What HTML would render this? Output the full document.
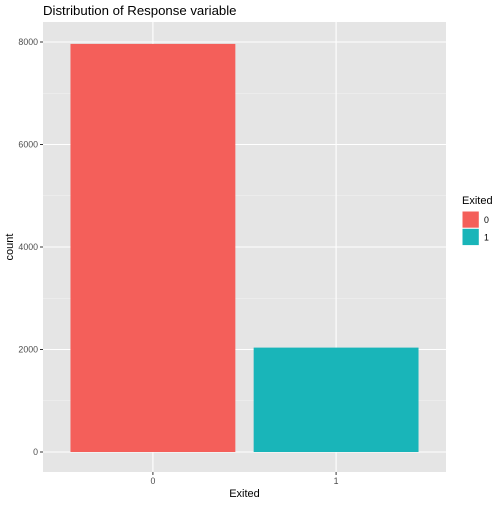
<!DOCTYPE html>
<html><head><meta charset="utf-8"><style>
body{margin:0;background:#fff;font-family:"Liberation Sans",sans-serif;}
svg text{font-family:"Liberation Sans",sans-serif;}
</style></head><body>
<svg width="504" height="504" xmlns="http://www.w3.org/2000/svg">
<text x="43" y="15" font-size="13.2" fill="#000">Distribution of Response variable</text>
<rect x="43" y="22" width="403" height="450" fill="#e5e5e5"/>
<g id="grid"></g>
<g id="bars"></g>
<g id="axes"></g>
<text x="244.5" y="497" font-size="11" text-anchor="middle">Exited</text>
<text transform="translate(13,247) rotate(-90)" font-size="11" text-anchor="middle">count</text>
<g>
<text x="462" y="204" font-size="11">Exited</text>
<g id="legend"></g>
</g>
</svg>
<script>
const categories = ["0","1"];
const counts = [7963, 2037];
const colors = ["#F45F5A","#19B5B9"];
const yTicks = [0,2000,4000,6000,8000];
const NS="http://www.w3.org/2000/svg";
const px0=43, px1=446, py0=452, py8=42;
function y(v){return py0-(v/8000)*(py0-py8);}
function x(i){return px0+(i+1-0.4)*(px1-px0)/2.2;}
const bw=0.9*(px1-px0)/2.2;
function mk(t,a,p){const e=document.createElementNS(NS,t);for(const k in a)e.setAttribute(k,a[k]);p.appendChild(e);return e;}
const grid=document.getElementById('grid'), bars=document.getElementById('bars'), axes=document.getElementById('axes'), leg=document.getElementById('legend');
yTicks.forEach((t,i)=>{
  const g=mk('line',{x1:px0,x2:px1,y1:y(t),y2:y(t),stroke:'#fff','stroke-width':1.1},grid);
  
  
  if(i<yTicks.length-1){const mid=(t+yTicks[i+1])/2;
    const m=mk('line',{x1:px0,x2:px1,y1:y(mid),y2:y(mid),stroke:'#f2f2f2','stroke-width':0.55},grid);
    
    }
  const tk=mk('line',{x1:px0-3,x2:px0,y1:y(t),y2:y(t),stroke:'#333','stroke-width':1},axes);
  
  
  const tx=mk('text',{x:px0-5,y:y(t)+3,'font-size':8.8,fill:'#4d4d4d','text-anchor':'end'},axes);
  tx.textContent=t;
  
  
});
categories.forEach((c,i)=>{
  const g=mk('line',{x1:x(i),x2:x(i),y1:22,y2:472,stroke:'#fff','stroke-width':1.1},grid);
  
  
  const b=mk('rect',{x:x(i)-bw/2,y:y(counts[i]),width:bw,height:y(0)-y(counts[i]),fill:colors[i]},bars);
  
  
  const tk=mk('line',{x1:x(i),x2:x(i),y1:472,y2:475,stroke:'#333','stroke-width':1},axes);
  
  
  const tx=mk('text',{x:x(i),y:484,'font-size':8.8,fill:'#4d4d4d','text-anchor':'middle'},axes);
  tx.textContent=c;
  
  
  const k=mk('rect',{x:462,y:211+i*17.3,width:17.3,height:17.3,fill:colors[i],stroke:'#fff','stroke-width':1},leg);
  
  
  const lt=mk('text',{x:484,y:223+i*17.3,'font-size':8.8,fill:'#000'},leg);
  lt.textContent=c;
  
  
});
</script>
</body></html>
